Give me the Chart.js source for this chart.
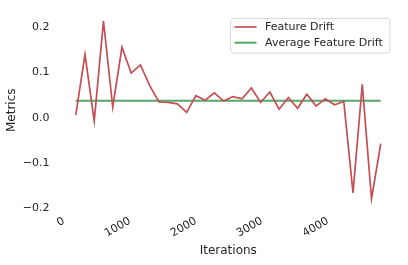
<!DOCTYPE html>
<html>
<head>
<meta charset="utf-8">
<script src="https://cdn.jsdelivr.net/npm/chart.js@4"></script>
<style>
  html, body { margin: 0; padding: 0; background: #ffffff; }
  #wrap { width: 408px; height: 265px; position: relative; }
</style>
</head>
<body>
<div id="wrap"><canvas id="c" width="408" height="265"></canvas></div>
<script>
// ---- data ----
const iterations = [180, 320, 460, 600, 740, 880, 1020, 1160, 1300, 1440, 1580, 1720,
  1860, 2000, 2140, 2280, 2420, 2560, 2700, 2840, 2980, 3120, 3260, 3400, 3540, 3680,
  3820, 3960, 4100, 4240, 4380, 4520, 4660, 4800];
const featureDrift = [0.006, 0.140, -0.007, 0.214, 0.024, 0.156, 0.099, 0.117, 0.071,
  0.035, 0.034, 0.031, 0.012, 0.049, 0.039, 0.055, 0.037, 0.047, 0.042, 0.066, 0.034,
  0.057, 0.019, 0.045, 0.021, 0.052, 0.026, 0.042, 0.029, 0.036, -0.166, 0.074, -0.179, -0.057];
const avgIterations = [180, 4800];
const avgFeatureDrift = [0.038, 0.038];
const xTicks = [0, 1000, 2000, 3000, 4000];
const yTicks = [-0.2, -0.1, 0.0, 0.1, 0.2];
const seriesLabels = ['Feature Drift', 'Average Feature Drift'];
const xTitle = 'Iterations';
const yTitle = 'Metrics';

const TXT = '#262626';
const FONT = 'DejaVu Sans';

const legendPlugin = {
  id: 'boxLegend',
  afterDraw(chart) {
    const ctx = chart.ctx;
    const x0 = 230.5, y0 = 18.5, w = 159.5, h = 34.5, r = 3;
    ctx.save();
    ctx.beginPath();
    ctx.moveTo(x0 + r, y0);
    ctx.arcTo(x0 + w, y0, x0 + w, y0 + h, r);
    ctx.arcTo(x0 + w, y0 + h, x0, y0 + h, r);
    ctx.arcTo(x0, y0 + h, x0, y0, r);
    ctx.arcTo(x0, y0, x0 + w, y0, r);
    ctx.closePath();
    ctx.fillStyle = 'rgba(255,255,255,0.8)';
    ctx.fill();
    ctx.strokeStyle = '#d9d9d9';
    ctx.lineWidth = 1;
    ctx.stroke();
    const rows = [27, 42.7];
    chart.data.datasets.forEach((ds, i) => {
      const y = rows[i];
      ctx.beginPath();
      ctx.moveTo(234.5, y);
      ctx.lineTo(256.5, y);
      ctx.strokeStyle = ds.borderColor;
      ctx.lineWidth = ds.borderWidth;
      ctx.stroke();
      ctx.fillStyle = TXT;
      ctx.font = '11px "' + FONT + '"';
      ctx.textBaseline = 'middle';
      ctx.textAlign = 'left';
      ctx.fillText(ds.label, 265, y);
    });
    ctx.restore();
  }
};

new Chart(document.getElementById('c'), {
  type: 'line',
  data: {
    datasets: [
      {
        label: seriesLabels[0],
        data: iterations.map((x, i) => ({ x: x, y: featureDrift[i] })),
        borderColor: '#C44E52',
        borderWidth: 1.7,
        pointRadius: 0,
        tension: 0,
        fill: false
      },
      {
        label: seriesLabels[1],
        data: avgIterations.map((x, i) => ({ x: x, y: avgFeatureDrift[i] })),
        borderColor: '#55A868',
        borderWidth: 2.0,
        pointRadius: 0,
        tension: 0,
        fill: false
      }
    ]
  },
  options: {
    responsive: false,
    animation: false,
    devicePixelRatio: 1,
    layout: { padding: { left: 0, right: 12, top: 12, bottom: 0 } },
    plugins: { legend: { display: false }, tooltip: { enabled: false } },
    scales: {
      x: {
        type: 'linear',
        min: -51,
        max: 5031,
        afterBuildTicks: (s) => { s.ticks = xTicks.map(v => ({ value: v })); },
        afterFit: (s) => { s.height = 56.5; s.paddingLeft = 0; s.paddingRight = 0; },
        grid: { display: false, drawTicks: false },
        border: { display: false },
        ticks: {
          minRotation: 30, maxRotation: 30,
          padding: 6,
          color: TXT,
          font: { family: FONT, size: 11 },
          callback: (v) => String(v)
        },
        title: {
          display: true, text: xTitle, color: TXT,
          font: { family: FONT, size: 12 },
          padding: { top: 0, bottom: 7 }
        }
      },
      y: {
        min: -0.2005,
        max: 0.234,
        afterBuildTicks: (s) => { s.ticks = yTicks.map(v => ({ value: v })); },
        afterFit: (s) => { s.width = 60.5; s.paddingTop = 0; s.paddingBottom = 0; },
        grid: { display: false, drawTicks: false },
        border: { display: false },
        ticks: {
          padding: 11,
          color: TXT,
          font: { family: FONT, size: 11 },
          callback: (v) => v.toFixed(1).replace('-', '\u2212')
        },
        title: {
          display: true, text: yTitle, color: TXT,
          font: { family: FONT, size: 12 },
          padding: { top: 5, bottom: 0 }
        }
      }
    }
  },
  plugins: [legendPlugin]
});
</script>
</body>
</html>
